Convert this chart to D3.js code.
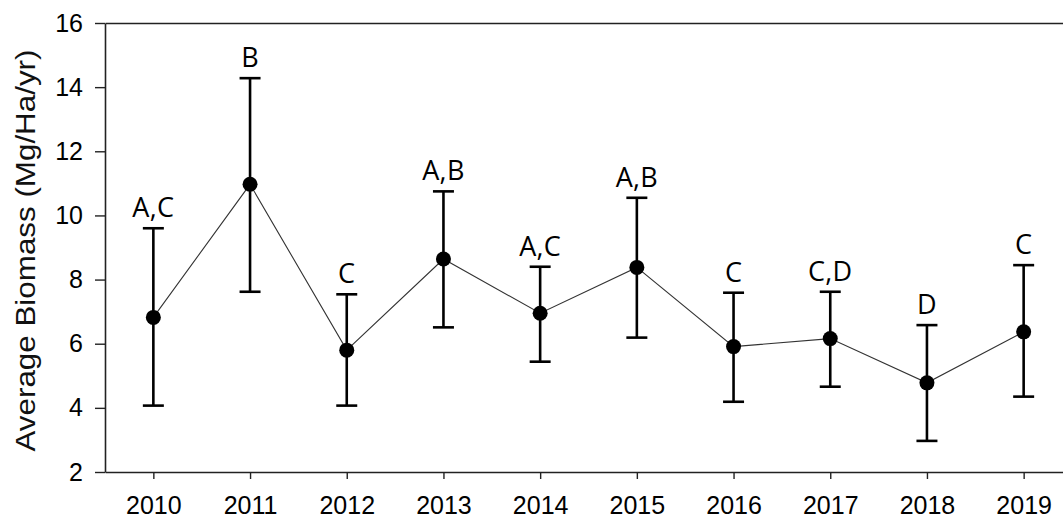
<!DOCTYPE html>
<html>
<head>
<meta charset="utf-8">
<script src="https://cdn.jsdelivr.net/npm/d3@7"></script>
<style>
  html, body { margin: 0; padding: 0; background: #fff; }
  svg { display: block; }
</style>
</head>
<body>
<svg id="chart" width="1063" height="519"></svg>
<script>
const years  = [2010, 2011, 2012, 2013, 2014, 2015, 2016, 2017, 2018, 2019];
const means  = [6.82, 10.97, 5.80, 8.64, 6.95, 8.38, 5.91, 6.16, 4.78, 6.37];
const upper  = [9.60, 14.28, 7.54, 10.75, 8.40, 10.55, 7.59, 7.62, 6.58, 8.45];
const lower  = [4.07, 7.62, 4.07, 6.51, 5.44, 6.19, 4.19, 4.66, 2.97, 4.35];
const groups = ["A,C", "B", "C", "A,B", "A,C", "A,B", "C", "C,D", "D", "C"];
const yTicks = [2, 4, 6, 8, 10, 12, 14, 16];
const yLabel = "Average Biomass (Mg/Ha/yr)";

const data = years.map((y, i) => ({year: y, mean: means[i], hi: upper[i], lo: lower[i], g: groups[i]}));

const svg = d3.select("#chart");
const x = d3.scaleLinear().domain([2009.5, 2019.5]).range([105, 1072]);
const y = d3.scaleLinear().domain([2, 16]).range([472, 23]);

// top frame line
svg.append("g")
  .attr("transform", `translate(0,${y(16)})`)
  .call(d3.axisTop(x).tickValues([]).tickSizeOuter(0))
  .call(g => g.select(".domain").attr("stroke", "#222").attr("stroke-width", 1.6));

// bottom axis
const xAxis = svg.append("g")
  .attr("transform", `translate(0,${y(2)})`)
  .call(d3.axisBottom(x).tickValues(years).tickFormat(d3.format("d")).tickSize(7).tickSizeOuter(0).tickPadding(17));
xAxis.select(".domain").attr("stroke", "#222").attr("stroke-width", 1.6);
xAxis.selectAll(".tick line").attr("stroke", "#222").attr("stroke-width", 1.4);
xAxis.selectAll(".tick text")
  .attr("font-family", "'Liberation Sans', Arial, sans-serif")
  .attr("font-size", 25).attr("fill", "#000")
  .attr("dy", "0.72em");

// left axis
const yAxis = svg.append("g")
  .attr("transform", `translate(${x(2009.5)},0)`)
  .call(d3.axisLeft(y).tickValues(yTicks).tickFormat(d3.format("d")).tickSize(10).tickSizeOuter(0).tickPadding(12));
yAxis.select(".domain").attr("stroke", "#222").attr("stroke-width", 1.6);
yAxis.selectAll(".tick line").attr("stroke", "#222").attr("stroke-width", 1.4);
yAxis.selectAll(".tick text")
  .attr("font-family", "'Liberation Sans', Arial, sans-serif")
  .attr("font-size", 25).attr("fill", "#000");

// y label
svg.append("text")
  .attr("transform", `translate(35,${(y(16) + y(2)) / 2 + 3}) rotate(-90)`)
  .attr("text-anchor", "middle")
  .attr("font-family", "'Liberation Sans', Arial, sans-serif")
  .attr("font-size", 28)
  .attr("textLength", 402)
  .attr("lengthAdjust", "spacingAndGlyphs")
  .attr("fill", "#111")
  .text(yLabel);

// connecting line
svg.append("path")
  .datum(data)
  .attr("fill", "none")
  .attr("stroke", "#333")
  .attr("stroke-width", 1.1)
  .attr("d", d3.line().x(d => x(d.year)).y(d => y(d.mean)));

// error bars
const eb = svg.append("g").attr("stroke", "#000").attr("stroke-width", 2.6);
eb.selectAll("line.v").data(data).join("line")
  .attr("x1", d => x(d.year)).attr("x2", d => x(d.year))
  .attr("y1", d => y(d.hi)).attr("y2", d => y(d.lo));
eb.selectAll("line.hi").data(data).join("line")
  .attr("x1", d => x(d.year) - 10.5).attr("x2", d => x(d.year) + 10.5)
  .attr("y1", d => y(d.hi)).attr("y2", d => y(d.hi));
eb.selectAll("line.lo").data(data).join("line")
  .attr("x1", d => x(d.year) - 10.5).attr("x2", d => x(d.year) + 10.5)
  .attr("y1", d => y(d.lo)).attr("y2", d => y(d.lo));

// points
svg.append("g").selectAll("circle").data(data).join("circle")
  .attr("cx", d => x(d.year)).attr("cy", d => y(d.mean))
  .attr("r", 7.5).attr("fill", "#000");

// group letters
svg.append("g").selectAll("text").data(data).join("text")
  .attr("x", d => x(d.year)).attr("y", d => y(d.hi) - 11)
  .attr("text-anchor", "middle")
  .attr("font-family", "'Open Sans', 'Noto Sans', sans-serif")
  .attr("font-size", 27)
  .attr("letter-spacing", 0.3)
  .attr("fill", "#000")
  .text(d => d.g);
</script>
</body>
</html>
